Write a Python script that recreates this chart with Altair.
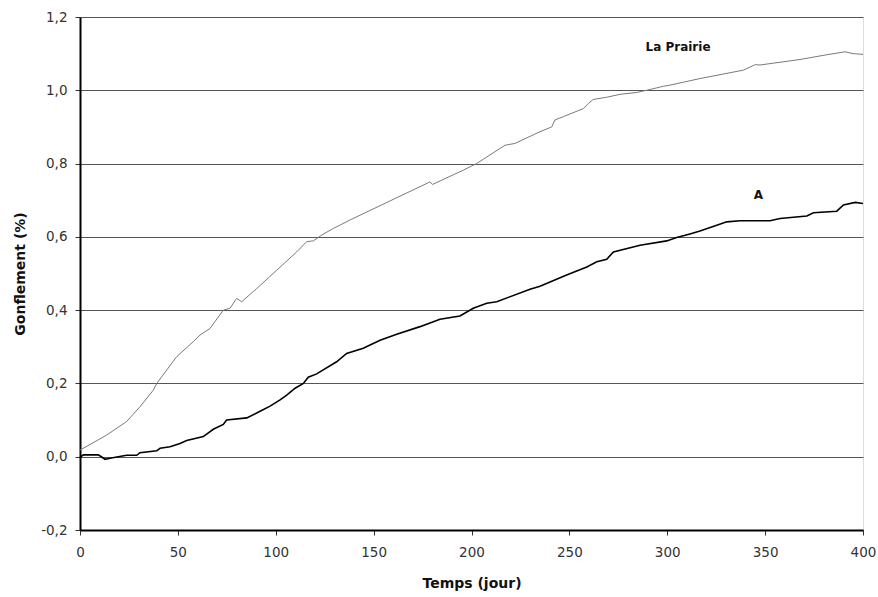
import altair as alt
import pandas as pd

# La Prairie series
prairie_t = [0, 13.6, 23.8, 30.6, 37.5, 39.2, 49.4, 57.9, 61.3, 66.4,
             73.2, 76.6, 80, 82.6, 90.3, 100.5, 110.7, 115.8, 119.2, 123.5,
             129.4, 132.8, 137.9, 178.8, 180.1, 195.8, 202.6, 217.1, 222.2,
             235, 241, 242.6, 246.9, 257.1, 259.7, 262.2, 269.1, 275.9, 284.4,
             289.5, 298, 301.4, 316.7, 338.9, 345, 347.4, 367.8, 381.5, 390.8,
             395, 400]
prairie_v = [0.018, 0.059, 0.096, 0.136, 0.182, 0.200, 0.273, 0.314, 0.332, 0.350,
             0.400, 0.405, 0.432, 0.423, 0.459, 0.509, 0.559, 0.587, 0.589, 0.605,
             0.623, 0.632, 0.646, 0.750, 0.743, 0.782, 0.800, 0.850, 0.855,
             0.887, 0.900, 0.919, 0.928, 0.950, 0.964, 0.975, 0.981, 0.989, 0.994,
             1.000, 1.011, 1.014, 1.032, 1.055, 1.070, 1.069, 1.084, 1.097, 1.105,
             1.100, 1.098]

# A series
a_t = [0, 1.7, 9.4, 12.8, 15.3, 23.8, 29, 30.6, 39.2, 40.9,
       46, 51.1, 54.5, 63, 68.1, 73.2, 74.9, 85.2, 92, 97.1,
       102.2, 105.6, 109.9, 114.1, 116.6, 120.9, 131.1, 136.2, 144.7, 153.3,
       161.8, 173.7, 183.9, 194.1, 200.9, 207.8, 212.9, 229.9, 235, 248.6,
       258.9, 264, 269.1, 272.5, 286.1, 299.7, 304.8, 311.6, 316.7, 325.3,
       330.4, 337.2, 352.5, 357.6, 371.3, 374.7, 386.6, 390, 396, 400]
a_v = [-0.002, 0.005, 0.005, -0.007, -0.004, 0.004, 0.004, 0.011, 0.016, 0.023,
       0.027, 0.036, 0.044, 0.055, 0.075, 0.088, 0.100, 0.106, 0.124, 0.138,
       0.155, 0.168, 0.187, 0.200, 0.217, 0.226, 0.259, 0.282, 0.296, 0.318,
       0.334, 0.355, 0.375, 0.384, 0.405, 0.419, 0.423, 0.457, 0.465, 0.496,
       0.518, 0.532, 0.539, 0.559, 0.577, 0.589, 0.598, 0.608, 0.616, 0.632,
       0.641, 0.644, 0.644, 0.650, 0.657, 0.666, 0.670, 0.687, 0.694, 0.691]

label_text = ["La Prairie", "A"]
label_t = [305.5, 346.5]
label_v = [1.119, 0.714]

x_ticks = [0, 50, 100, 150, 200, 250, 300, 350, 400]
y_ticks = [-0.2, 0.0, 0.2, 0.4, 0.6, 0.8, 1.0, 1.2]

FONT = "DejaVu Sans"

df_p = pd.DataFrame({"t": prairie_t, "v": prairie_v})
df_a = pd.DataFrame({"t": a_t, "v": a_v})
df_l = pd.DataFrame({"label": label_text, "t": label_t, "v": label_v})

xscale = alt.Scale(domain=[0, 400], nice=False, zero=False)
yscale = alt.Scale(domain=[-0.2, 1.2], nice=False, zero=False)

xaxis = alt.Axis(values=x_ticks, title="Temps (jour)", grid=False,
                 domainColor="black", domainWidth=2, tickColor="#333",
                 tickSize=5, labelFont=FONT, labelFontSize=13.5, labelColor="#333",
                 labelPadding=10, labelFlush=False, titleFont=FONT, titleFontSize=14,
                 titleFontWeight="bold", titleColor="#111", titlePadding=18)
yaxis = alt.Axis(values=y_ticks, title="Gonflement (%)", grid=True,
                 gridColor="#555", gridWidth=1, domainColor="black", domainWidth=2,
                 tickColor="#333", tickSize=5, labelFont=FONT, labelFontSize=13.5,
                 labelColor="#333", labelPadding=8, labelFlush=False,
                 labelExpr="replace(replace(format(datum.value, '.1f'), '.', ','), '\u2212', '-')",
                 titleFont=FONT, titleFontSize=14, titleFontWeight="bold",
                 titleColor="#111", titlePadding=13)

line_p = alt.Chart(df_p).mark_line(color="#7a7a7a", strokeWidth=1).encode(
    x=alt.X("t:Q", scale=xscale, axis=xaxis),
    y=alt.Y("v:Q", scale=yscale, axis=yaxis),
)
line_a = alt.Chart(df_a).mark_line(color="black", strokeWidth=1.6).encode(
    x=alt.X("t:Q", scale=xscale),
    y=alt.Y("v:Q", scale=yscale),
)
labels = alt.Chart(df_l).mark_text(font=FONT, fontSize=12, fontWeight="bold",
                                   color="#111").encode(
    x=alt.X("t:Q", scale=xscale),
    y=alt.Y("v:Q", scale=yscale),
    text="label:N",
)

chart = (line_p + line_a + labels).properties(
    width=783, height=513,
    autosize=alt.AutoSizeParams(type="none"),
    padding={"left": 80, "top": 17, "right": 15, "bottom": 67},
).configure_view(stroke="black", strokeWidth=1).configure(background="white")

chart.save("out.html", embed_options={"renderer": "svg", "actions": False})
